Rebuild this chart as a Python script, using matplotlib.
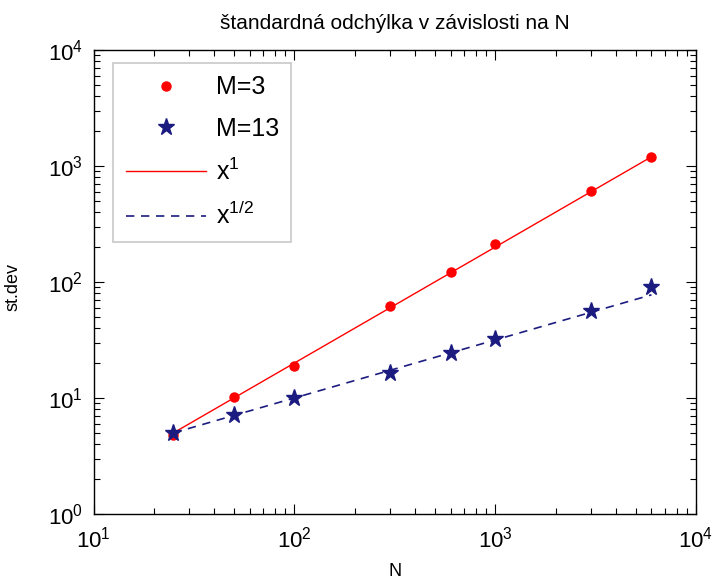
import numpy as np
import matplotlib
matplotlib.use('Agg')
import matplotlib.pyplot as plt

plt.rcParams['font.family'] = ['Liberation Sans', 'DejaVu Sans']
plt.rcParams['mathtext.fontset'] = 'custom'
plt.rcParams['mathtext.rm'] = 'Liberation Sans'
plt.rcParams['mathtext.it'] = 'Liberation Sans:italic'
plt.rcParams['mathtext.default'] = 'regular'

# data
N = [25, 50, 100, 300, 600, 1000, 3000, 6000]
sd_m3 = [4.8, 10.2, 18.7, 62, 122, 211, 604, 1207]
sd_m13 = [5.0, 7.2, 10.0, 16.3, 24.6, 32.5, 56.4, 90.6]
# fitted power-law lines, endpoints
fit_N = [25, 6000]
fit_x1 = [5.0, 1200]
fit_xhalf = [5.0, 77.5]

red = '#ff0000'
navy = '#1c1c80'

fig = plt.figure(figsize=(7.16, 5.84), dpi=100)
ax = fig.add_axes([0.1306, 0.1199, 0.8415, 0.7945])

ax.plot(N, sd_m3, 'o', color=red, markersize=6.5, label='M=3', zorder=3)
ax.plot(N, sd_m13, '*', color=navy, markersize=12.5, label='M=13', zorder=4)
ax.plot(fit_N, fit_x1, '-', color=red, lw=1.0, label='$x^1$')
ax.plot(fit_N, fit_xhalf, '--', color=navy, lw=1.2, dashes=(5, 4), label='$x^{1/2}$')

ax.set_xscale('log')
ax.set_yscale('log')
ax.set_xlim(10, 1e4)
ax.set_ylim(1, 1e4)

ax.tick_params(which='both', direction='in', top=True, right=True, width=0.8)
ax.tick_params(which='major', length=7)
ax.tick_params(which='minor', length=4)
ax.tick_params(axis='x', labelsize=16, pad=9)
ax.tick_params(axis='y', labelsize=16, pad=7.5)
for s in ax.spines.values():
    s.set_linewidth(1.0)

ax.set_title('štandardná odchýlka v závislosti na N', fontsize=15, pad=15)
ax.set_xlabel('N', fontsize=13, labelpad=8)
ax.set_ylabel('st.dev', fontsize=13)
ax.yaxis.set_label_coords(-0.12, 0.489)

leg = ax.legend(loc='upper left', bbox_to_anchor=(0.0324, 0.972), borderaxespad=0,
                fontsize=18, handlelength=3.2, handletextpad=0.4, labelspacing=0.7,
                borderpad=0.5, fancybox=False, framealpha=1)
leg.get_frame().set_edgecolor('#c8c8c8')
leg.get_frame().set_linewidth(1.2)

fig.savefig('out.png', dpi=100)
